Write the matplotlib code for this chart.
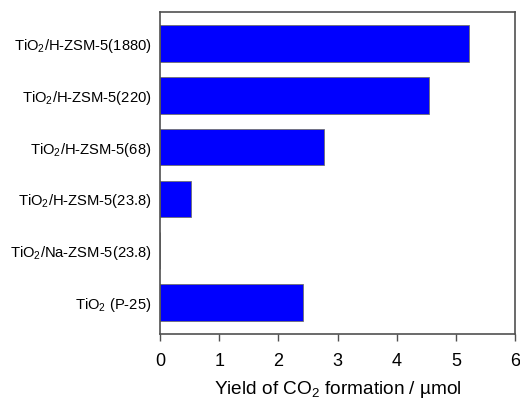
import numpy as np
import matplotlib
matplotlib.use('Agg')
import matplotlib.pyplot as plt

plt.rcParams['font.family'] = ['Liberation Sans', 'DejaVu Sans']
plt.rcParams['mathtext.fontset'] = 'custom'
plt.rcParams['mathtext.rm'] = 'Liberation Sans'
plt.rcParams['mathtext.it'] = 'Liberation Sans'

# categories listed bottom to top
samples = ['TiO$_2$ (P-25)', 'TiO$_2$/Na-ZSM-5(23.8)', 'TiO$_2$/H-ZSM-5(23.8)',
           'TiO$_2$/H-ZSM-5(68)', 'TiO$_2$/H-ZSM-5(220)', 'TiO$_2$/H-ZSM-5(1880)']
co2_yield = [2.41, 0.0, 0.52, 2.77, 4.55, 5.22]
xticks = [0, 1, 2, 3, 4, 5, 6]

fig = plt.figure(figsize=(5.2, 4.01), dpi=100)
ax = fig.add_axes([160/520., 1 - 334/401., 355/520., 322/401.])

pos = np.arange(len(samples))
ax.barh(pos, co2_yield, height=0.71, color='#0000ff', edgecolor='#707070', linewidth=0.6)

ax.set_xlim(0, 6)
ax.set_ylim(-0.6, 5.6)
ax.set_xticks(xticks)
ax.set_xticklabels([str(t) for t in xticks], fontsize=13)
ax.set_yticks(pos)
ax.set_yticklabels(samples, fontsize=10.6)
ax.tick_params(axis='y', length=0, pad=6)
ax.tick_params(axis='x', length=5, width=1, color='#505050', pad=9)

for s in ax.spines.values():
    s.set_color('#505050')
    s.set_linewidth(1.2)

ax.set_xlabel('Yield of CO$_2$ formation / µmol', fontsize=13.7, labelpad=6.5)

fig.savefig('out.png', dpi=100)
